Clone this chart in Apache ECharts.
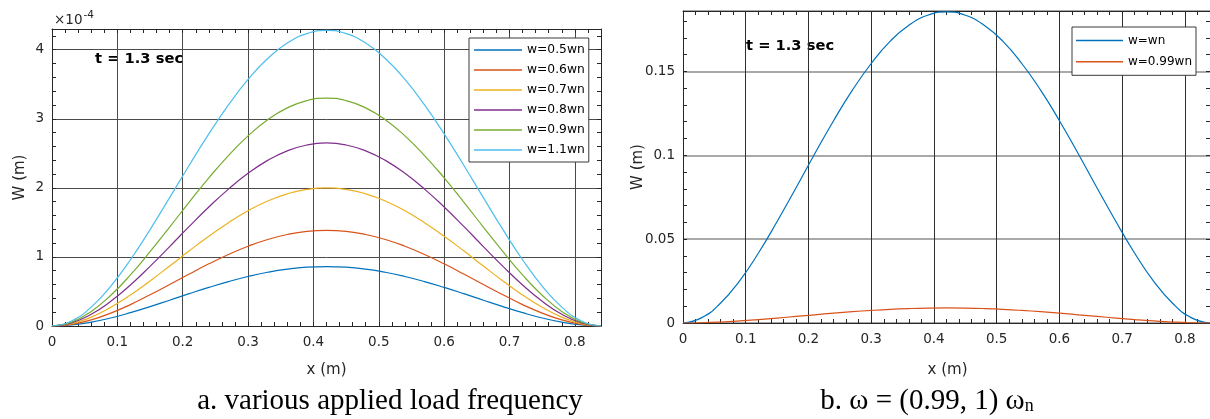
<!DOCTYPE html>
<html>
<head>
<meta charset="utf-8">
<script src="https://cdn.jsdelivr.net/npm/echarts@6/dist/echarts.min.js"></script>
<style>
  html, body { margin: 0; padding: 0; background: #ffffff; }
  #chart { width: 1210px; height: 419px; }
</style>
</head>
<body>
<div id="chart"></div>
<script>
// Beam deflection W along x at t = 1.3 s
const positions = [0, 0.03, 0.06, 0.09, 0.12, 0.15, 0.18, 0.21, 0.24, 0.27, 0.30, 0.33, 0.36, 0.39, 0.42,
                   0.45, 0.48, 0.51, 0.54, 0.57, 0.60, 0.63, 0.66, 0.69, 0.72, 0.75, 0.78, 0.81, 0.84];

// Panel a: deflection in units of 1e-4 m
const namesA = ['w=0.5wn', 'w=0.6wn', 'w=0.7wn', 'w=0.8wn', 'w=0.9wn', 'w=1.1wn'];
const w05 = [0, 0.015, 0.055, 0.116, 0.193, 0.280, 0.373, 0.468, 0.559, 0.643, 0.717, 0.778, 0.823, 0.851, 0.860,
             0.851, 0.823, 0.778, 0.717, 0.643, 0.559, 0.468, 0.373, 0.280, 0.193, 0.116, 0.055, 0.015, 0];
const w06 = [0, 0.024, 0.089, 0.187, 0.310, 0.452, 0.601, 0.753, 0.900, 1.036, 1.155, 1.253, 1.325, 1.370, 1.385,
             1.370, 1.325, 1.253, 1.155, 1.036, 0.900, 0.753, 0.601, 0.452, 0.310, 0.187, 0.089, 0.024, 0];
const w07 = [0, 0.034, 0.128, 0.270, 0.448, 0.652, 0.868, 1.088, 1.300, 1.496, 1.668, 1.810, 1.914, 1.978, 2.000,
             1.978, 1.914, 1.810, 1.668, 1.496, 1.300, 1.088, 0.868, 0.652, 0.448, 0.270, 0.128, 0.034, 0];
const w08 = [0, 0.045, 0.170, 0.358, 0.594, 0.864, 1.150, 1.442, 1.723, 1.982, 2.210, 2.398, 2.536, 2.621, 2.650,
             2.621, 2.536, 2.398, 2.210, 1.982, 1.723, 1.442, 1.150, 0.864, 0.594, 0.358, 0.170, 0.045, 0];
const w09 = [0, 0.056, 0.211, 0.446, 0.739, 1.076, 1.432, 1.795, 2.145, 2.468, 2.752, 2.987, 3.158, 3.264, 3.300,
             3.264, 3.158, 2.987, 2.752, 2.468, 2.145, 1.795, 1.432, 1.076, 0.739, 0.446, 0.211, 0.056, 0];
const w11 = [0, 0.073, 0.274, 0.578, 0.959, 1.395, 1.858, 2.328, 2.782, 3.201, 3.570, 3.873, 4.096, 4.233, 4.280,
             4.233, 4.096, 3.873, 3.570, 3.201, 2.782, 2.328, 1.858, 1.395, 0.959, 0.578, 0.274, 0.073, 0];

// Panel b: deflection in m
const namesB = ['w=wn', 'w=0.99wn'];
const wn = [0, 0.0032, 0.0119, 0.0250, 0.0416, 0.0605, 0.0805, 0.1009, 0.1206, 0.1388, 0.1547, 0.1679, 0.1775, 0.1835, 0.1855,
            0.1835, 0.1775, 0.1679, 0.1547, 0.1388, 0.1206, 0.1009, 0.0805, 0.0605, 0.0416, 0.0250, 0.0119, 0.0032, 0];
const w099 = [0, 0.00015, 0.00058, 0.00122, 0.00202, 0.00293, 0.00391, 0.00490, 0.00585, 0.00673, 0.00751, 0.00815, 0.00861, 0.00890, 0.00900,
              0.00890, 0.00861, 0.00815, 0.00751, 0.00673, 0.00585, 0.00490, 0.00391, 0.00293, 0.00202, 0.00122, 0.00058, 0.00015, 0];

const colorsA = ['#0072BD', '#D95319', '#EDB120', '#7E2F8E', '#77AC30', '#4DBEEE'];
const colorsB = ['#0072BD', '#D95319'];

const SANS = 'DejaVu Sans';
const SERIF = 'Liberation Serif';
const INK = '#262626';

const chart = echarts.init(document.getElementById('chart'), null, { renderer: 'canvas' });

// Axis with labels and grid lines
function mainX(grid, max, gridColor) {
  return {
    type: 'value', gridIndex: grid, min: 0, max: max, interval: 0.1, position: 'bottom',
    axisLine: { show: false }, axisTick: { show: false },
    axisLabel: { show: true, margin: 9, color: INK, fontFamily: SANS, fontSize: 13.5, showMaxLabel: false,
                 formatter: v => String(Math.round(v * 10) / 10) },
    splitLine: { show: true, lineStyle: { color: gridColor, width: 1 } }
  };
}
function mainY(grid, max, interval, gridColor, gridWidth) {
  return {
    type: 'value', gridIndex: grid, min: 0, max: max, interval: interval, position: 'left',
    axisLine: { show: false }, axisTick: { show: false },
    axisLabel: { show: true, margin: 8, color: INK, fontFamily: SANS, fontSize: 13.5, showMaxLabel: false },
    splitLine: { show: true, lineStyle: { color: gridColor, width: gridWidth } }
  };
}
// Frame edge carrying the small inward ticks
function frameAxis(grid, position, max, interval) {
  return {
    type: 'value', gridIndex: grid, min: 0, max: max, interval: interval, position: position,
    axisLine: { show: true, onZero: false, lineStyle: { color: INK, width: 1 } },
    axisTick: { show: true, inside: true, length: 4, lineStyle: { color: INK, width: 1 } },
    axisLabel: { show: false }, splitLine: { show: false }
  };
}

function lineSeries(name, values, color, xi, yi) {
  return {
    name: name, type: 'line', xAxisIndex: xi, yAxisIndex: yi,
    data: positions.map((x, i) => [x, values[i]]),
    symbol: 'none', smooth: 0.5, clip: true,
    lineStyle: { color: color, width: 1.2 }, itemStyle: { color: color }, z: 3
  };
}

const seriesA = [w05, w06, w07, w08, w09, w11].map((v, i) => lineSeries(namesA[i], v, colorsA[i], 0, 0));
const seriesB = [wn, w099].map((v, i) => lineSeries(namesB[i], v, colorsB[i], 3, 3));

const legendBase = {
  orient: 'vertical', icon: 'rect', selectedMode: false,
  borderColor: '#3a3a3a', borderWidth: 1, backgroundColor: '#ffffff', z: 10
};

const option = {
  animation: false,
  backgroundColor: '#ffffff',
  grid: [
    { left: 52, top: 29, width: 549, height: 297 },
    { left: 683, top: 11, width: 529, height: 312 }
  ],
  xAxis: [
    mainX(0, 0.84, '#4a4a4a'),
    frameAxis(0, 'bottom', 0.84, 0.02),
    frameAxis(0, 'top', 0.84, 0.02),
    mainX(1, 0.84, '#2e2e2e'),
    frameAxis(1, 'bottom', 0.84, 0.02),
    frameAxis(1, 'top', 0.84, 0.02)
  ],
  yAxis: [
    mainY(0, 4.3, 1, '#4a4a4a', 1),
    frameAxis(0, 'left', 4.3, 0.2),
    frameAxis(0, 'right', 4.3, 0.2),
    mainY(1, 0.186, 0.05, '#8c8c8c', 1.6),
    frameAxis(1, 'left', 0.186, 0.01),
    frameAxis(1, 'right', 0.186, 0.01)
  ],
  legend: [
    Object.assign({}, legendBase, {
      data: namesA, left: 469, top: 38, padding: [5, 4, 5, 5], itemGap: 6, itemWidth: 48, itemHeight: 1.5,
      textStyle: { fontFamily: SANS, fontSize: 12.3, color: '#000', lineHeight: 14 }
    }),
    Object.assign({}, legendBase, {
      data: namesB, left: 1072, top: 27, padding: [6.5, 4, 6.5, 4], itemGap: 7.3, itemWidth: 47, itemHeight: 1.5,
      textStyle: { fontFamily: SANS, fontSize: 12, color: '#000', lineHeight: 14 }
    })
  ],
  series: seriesA.concat(seriesB),
  graphic: [
    // exponent of panel a
    { type: 'text', left: 54, top: 13, style: { text: '×10', font: '13.5px "DejaVu Sans"', fill: INK } },
    { type: 'text', left: 83.5, top: 9.5, style: { text: '-4', font: '10.5px "DejaVu Sans"', fill: INK } },
    // time stamps
    { type: 'text', x: 95, y: 59, style: { text: 't = 1.3 sec', font: 'bold 14.7px "DejaVu Sans"', fill: '#000', verticalAlign: 'middle' } },
    { type: 'text', x: 746, y: 46, style: { text: 't = 1.3 sec', font: 'bold 14.7px "DejaVu Sans"', fill: '#000', verticalAlign: 'middle' } },
    // axis titles
    { type: 'text', x: 20, y: 177.5, rotation: Math.PI / 2, style: { text: 'W (m)', font: '15px "DejaVu Sans"', fill: INK, align: 'center', verticalAlign: 'middle' } },
    { type: 'text', x: 638, y: 167, rotation: Math.PI / 2, style: { text: 'W (m)', font: '15px "DejaVu Sans"', fill: INK, align: 'center', verticalAlign: 'middle' } },
    { type: 'text', x: 326.5, y: 370, style: { text: 'x (m)', font: '15px "DejaVu Sans"', fill: INK, align: 'center', verticalAlign: 'middle' } },
    { type: 'text', x: 947.5, y: 370, style: { text: 'x (m)', font: '15px "DejaVu Sans"', fill: INK, align: 'center', verticalAlign: 'middle' } },
    // panel captions
    { type: 'text', x: 390, y: 401, style: { text: 'a. various applied load frequency', font: '29px "Liberation Serif"', fill: '#000', align: 'center', verticalAlign: 'middle' } },
    { type: 'text', x: 927, y: 400, style: {
        text: '{m|b. ω = (0.99, 1) ω}{s|n}', align: 'center', verticalAlign: 'middle',
        rich: {
          m: { fontFamily: SERIF, fontSize: 29, fill: '#000', verticalAlign: 'bottom', lineHeight: 31 },
          s: { fontFamily: SERIF, fontSize: 18, fill: '#000', verticalAlign: 'bottom', lineHeight: 18 }
        }
      } }
  ]
};

chart.setOption(option);
</script>
</body>
</html>
